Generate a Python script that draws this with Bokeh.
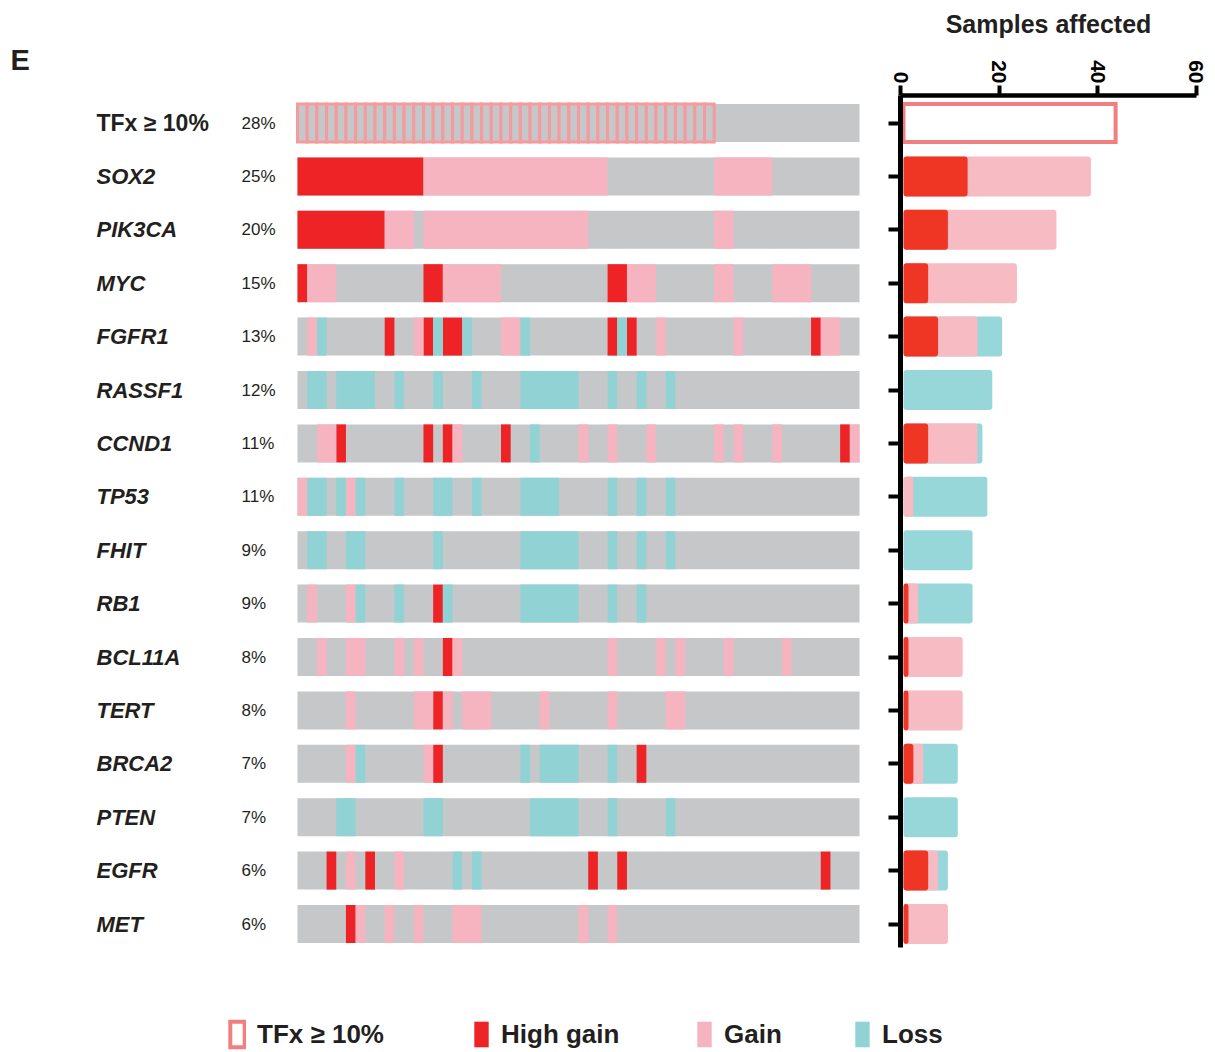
import math
from bokeh.plotting import figure
from bokeh.models import Range1d, FixedTicker, Legend, LegendItem, LinearAxis
from bokeh.core.properties import value
from bokeh.embed import file_html
from bokeh.resources import INLINE

# ---------------- data ----------------
row_labels = ["TFx ≥ 10%", "SOX2", "PIK3CA", "MYC", "FGFR1", "RASSF1", "CCND1", "TP53",
              "FHIT", "RB1", "BCL11A", "TERT", "BRCA2", "PTEN", "EGFR", "MET"]
pct_labels = ["28%", "25%", "20%", "15%", "13%", "12%", "11%", "11%",
              "9%", "9%", "8%", "8%", "7%", "7%", "6%", "6%"]

# one character per sample (58 samples): T = TFx >= 10%, H = high gain, G = gain, L = loss, . = none
tfx_row = "TTTTTTTTTT TTTTTTTTTT TTTTTTTTTT TTTTTTTTTT TTT....... ........"
sox2    = "HHHHHHHHHH HHHGGGGGGG GGGGGGGGGG GG........ ...GGGGGG. ........"
pik3ca  = "HHHHHHHHHG GG.GGGGGGG GGGGGGGGGG .......... ...GG..... ........"
myc     = "HGGG...... ...HHGGGGG G......... ..HHGGG... ...GG....G GGG....."
fgfr1   = ".GL......H ..GHLHHL.. .GGL...... ..HLH..G.. .....G.... ...HGG.."
rassf1  = ".LL.LLLL.. L...L...L. ...LLLLLL. ..L..L..L. .......... ........"
ccnd1   = "..GGH..... ...H.HG... .H..L....G ..G...G... ...G.G...G ......HG"
tp53    = "GLL.LGL... L...LL..L. ...LLLL... ..L..L..L. .......... ........"
fhit    = ".LL..LL... ....L..... ...LLLLLL. ..L..L..L. .......... ........"
rb1     = ".G...GL... L...HL.... ...LLLLLL. ..L..L.... .......... ........"
bcl11a  = "..G..GG... G.G..HG... .......... ..G....G.G ....G..... G......."
tert    = ".....G.... ..GGHG.GGG .....G.... ..G.....GG .......... ........"
brca2   = ".....GL... ...GH..... ...L.LLLL. ..L..H.... .......... ........"
pten    = "....LL.... ...LL..... ....LLLLL. ..L.....L. .......... ........"
egfr    = "...H.G.H.. G.....L.L. .......... H..H...... .......... ....H..."
met     = ".....HG..G ..G...GGG. .........G ..G....... .......... ........"

gene_states = [sox2, pik3ca, myc, fgfr1, rassf1, ccnd1, tp53, fhit, rb1,
               bcl11a, tert, brca2, pten, egfr, met]
axis_ticks = [0, 20, 40, 60]
legend_labels = ["TFx ≥ 10%", "High gain", "Gain", "Loss"]
bar_title = "Samples affected"
panel_letter = "E"

# ---------------- styles / layout ----------------
GRAY, RED, PINK, TEAL = "#c6c7c9", "#ee2325", "#f6b4c1", "#91d3d4"
TFX_LINE = "#f39b9e"
BAR_RED, BAR_PINK, BAR_TEAL, BAR_TFX = "#ef3524", "#f7bbc4", "#98d7d9", "#f27f7f"
TXT = "#231f20"
FONT = "Liberation Sans"

W, H = 1210, 1050
COL_PX = 9.69       # px per sample (oncoprint)
ROW_PX = 53.4       # px per row
BAR_PX = 4.933      # px per sample (bar chart)
COL0 = 297.0        # px of first sample
ROW0 = 122.5        # px of first row centre
AX0, BAR0 = 900.0, 903.0   # px of bar-chart zero (axis line / bar start)
CELL_H = 38 / ROW_PX
BAR_H = 40 / ROW_PX
hh = CELL_H / 2

def col_of(px):
    return (px - COL0) / COL_PX

def row_of(py):
    return (py - ROW0) / ROW_PX

tfx = tfx_row.replace(" ", "")
states = [s.replace(" ", "") for s in gene_states]
n_samples = len(tfx)
n_rows = 1 + len(states)
ys = list(range(n_rows))

p = figure(width=W, height=H,
           x_range=Range1d(col_of(0), col_of(W)),
           y_range=Range1d(row_of(H), row_of(0)),
           output_backend="svg", toolbar_location=None,
           x_axis_location=None, y_axis_location=None, min_border=0)
p.extra_x_ranges = {
    "axis": Range1d(-AX0 / BAR_PX, (W - AX0) / BAR_PX),
    "bars": Range1d(-BAR0 / BAR_PX, (W - BAR0) / BAR_PX),
}
p.outline_line_color = None
p.xgrid.visible = False
p.ygrid.visible = False
p.grid.visible = False

# ---------------- oncoprint ----------------
p.quad(left=[0] * n_rows, right=[n_samples] * n_rows,
       top=[y - hh for y in ys], bottom=[y + hh for y in ys],
       fill_color=GRAY, line_color=None)

colors = {"H": RED, "G": PINK, "L": TEAL}
runs = {c: dict(left=[], right=[], top=[], bottom=[]) for c in colors}
for k, s in enumerate(states, start=1):
    i = 0
    while i < len(s):
        j = i
        while j < len(s) and s[j] == s[i]:
            j += 1
        if s[i] in runs:
            d = runs[s[i]]
            d["left"].append(i); d["right"].append(j)
            d["top"].append(k - hh); d["bottom"].append(k + hh)
        i = j
run_renderers = {}
for c, d in runs.items():
    run_renderers[c] = p.quad(fill_color=colors[c], line_color=None, **d)

tfx_idx = [i for i, c in enumerate(tfx) if c == "T"]
p.quad(left=tfx_idx, right=[i + 1 for i in tfx_idx],
       top=[-hh] * len(tfx_idx), bottom=[hh] * len(tfx_idx),
       fill_color=GRAY, line_color=TFX_LINE, line_width=3, line_join="miter")

label_x = col_of(96)
pct_x = col_of(241)
p.text(x=[label_x], y=[0], text=[row_labels[0]], text_font=value(FONT),
       text_font_style="bold", text_font_size="23px", text_baseline="middle",
       text_color=TXT)
p.text(x=[label_x] * (n_rows - 1), y=ys[1:], text=row_labels[1:], text_font=value(FONT),
       text_font_style="bold italic", text_font_size="22px", text_baseline="middle",
       text_color=TXT)
p.text(x=[pct_x] * n_rows, y=ys, text=pct_labels, text_font=value(FONT),
       text_font_size="17px", text_baseline="middle", text_color=TXT)
p.text(x=[col_of(10)], y=[row_of(59)], text=[panel_letter],
       text_font=value(FONT), text_font_style="bold", text_font_size="29px",
       text_baseline="middle", text_color=TXT)

# ---------------- bar chart ----------------
nH = [s.count("H") for s in states]
nG = [s.count("G") for s in states]
nL = [s.count("L") for s in states]
gy = ys[1:]

tl = [(y, h + g + l) for y, h, g, l in zip(gy, nH, nG, nL) if l > 0]
p.hbar(y=[t[0] for t in tl], left=0, right=[t[1] for t in tl], height=BAR_H,
       fill_color=BAR_TEAL, line_color=None, border_radius=3, x_range_name="bars")
pk = [(y, h + g) for y, h, g in zip(gy, nH, nG) if g > 0]
p.hbar(y=[t[0] for t in pk], left=0, right=[t[1] for t in pk], height=BAR_H,
       fill_color=BAR_PINK, line_color=None, border_radius=3, x_range_name="bars")
rl = [(y, h) for y, h in zip(gy, nH) if h > 0]
p.hbar(y=[t[0] for t in rl], left=0, right=[t[1] for t in rl], height=BAR_H,
       fill_color=BAR_RED, line_color=None, border_radius=3, x_range_name="bars")
r_tfx_bar = p.hbar(y=[0], left=0, right=[len(tfx_idx)], height=CELL_H,
                   fill_color="white", line_color=BAR_TFX, line_width=4,
                   line_join="miter", x_range_name="bars")

axis_top = row_of(95)
axis_bottom = row_of(947)

xa = LinearAxis(x_range_name="axis", fixed_location=axis_top,
                bounds=(min(axis_ticks), max(axis_ticks)),
                ticker=FixedTicker(ticks=axis_ticks))
xa.major_label_orientation = -math.pi / 2
xa.axis_line_width = 4.5
xa.axis_line_color = "black"
xa.major_tick_line_width = 4
xa.major_tick_line_color = "black"
xa.major_tick_out = 10
xa.major_tick_in = 0
xa.minor_tick_line_color = None
xa.major_label_standoff = 2
xa.major_label_text_font = FONT
xa.major_label_text_font_style = "bold"
xa.major_label_text_font_size = "21px"
xa.major_label_text_color = "black"
p.add_layout(xa, "above")

ya = LinearAxis(x_range_name="axis", fixed_location=0,
                bounds=(axis_top, axis_bottom),
                ticker=FixedTicker(ticks=ys))
ya.axis_line_width = 5
ya.axis_line_color = "black"
ya.major_tick_line_width = 4
ya.major_tick_line_color = "black"
ya.major_tick_out = 12
ya.major_tick_in = 0
ya.minor_tick_line_color = None
ya.major_label_overrides = {y: "" for y in ys}
ya.major_label_standoff = 0
p.add_layout(ya, "left")

p.text(x=[sum(axis_ticks[::len(axis_ticks) - 1]) / 2], y=[row_of(23)], text=[bar_title],
       text_font=value(FONT), text_font_style="bold", text_font_size="25px",
       text_align="center", text_baseline="middle", text_color=TXT, x_range_name="axis")

# ---------------- legend ----------------
legend_renderers = [r_tfx_bar, run_renderers["H"], run_renderers["G"], run_renderers["L"]]
legend_px = [228, 472, 695, 853]
for lab, r, gx in zip(legend_labels, legend_renderers, legend_px):
    lg = Legend(items=[LegendItem(label=lab, renderers=[r])],
                orientation="horizontal", location=(gx, 0),
                glyph_width=18, glyph_height=32, label_height=32, label_standoff=11,
                padding=0, margin=0, border_line_color=None,
                background_fill_alpha=0, label_text_font=FONT,
                label_text_font_style="bold", label_text_font_size="26px",
                label_text_color=TXT, label_text_baseline="middle")
    p.add_layout(lg)

open("out.html", "w").write(file_html(p, INLINE))
